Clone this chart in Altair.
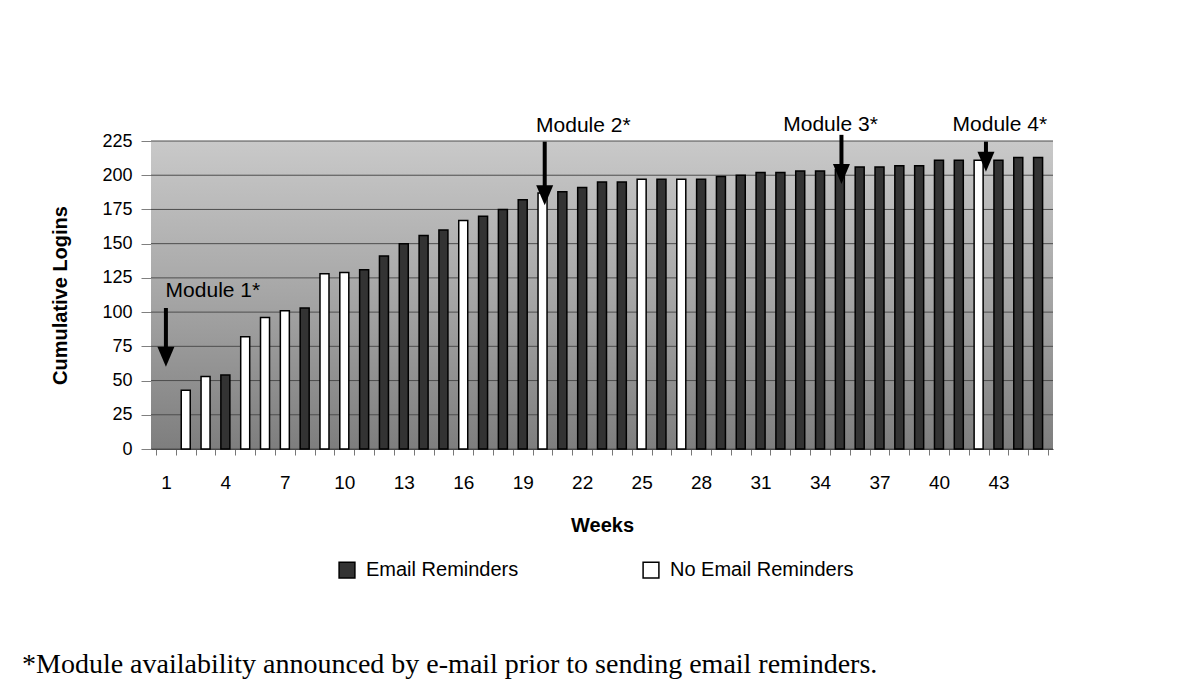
import altair as alt
import pandas as pd

# ---- data ----
weeks = list(range(2, 46))
logins = [43, 53, 54, 82, 96, 101, 103, 128, 129, 131,
          141, 150, 156, 160, 167, 170, 175, 182, 187, 188,
          191, 195, 195, 197, 197, 197, 197, 199, 200, 202,
          202, 203, 203, 204, 206, 206, 207, 207, 211, 211,
          211, 211, 213, 213]
no_email_weeks = [2, 3, 5, 6, 7, 9, 10, 16, 20, 25, 27, 42]
series_names = ["Email Reminders", "No Email Reminders"]
series_colors = ["#333333", "#ffffff"]

x_tick_labels = list(range(1, 46, 3))
x_tick_marks = [w + 0.5 for w in range(0, 46)]
y_ticks = list(range(0, 226, 25))

ann_labels = ["Module 1*", "Module 2*", "Module 3*", "Module 4*"]
ann_label_x = [3.37, 22.06, 34.53, 43.07]
ann_label_y = [111, 231.5, 232.3, 232.3]
arrow_x = [1.0, 20.11, 35.08, 42.37]
arrow_top = [103, 224.5, 229.5, 224.5]
arrow_tip = [60, 178, 193.5, 202.5]

footnote = "*Module availability announced by e-mail prior to sending email reminders."

# ---- tables ----
bars = pd.DataFrame({
    "week": weeks,
    "logins": logins,
    "group": [series_names[1] if w in no_email_weeks else series_names[0] for w in weeks],
})
ann = pd.DataFrame({
    "label": ann_labels, "lx": ann_label_x, "ly": ann_label_y,
    "ax": arrow_x, "atop": arrow_top, "atip": arrow_tip,
})
ann["shaft_end"] = ann["atip"] + 10
grid = pd.DataFrame({"v": y_ticks})
ticks_df = pd.DataFrame({"t": x_tick_marks})

W, H = 902, 308
xscale = alt.Scale(domain=[0.5, 45.5], nice=False, zero=False)
yscale = alt.Scale(domain=[0, 225], nice=False)

y_axis = alt.Axis(values=y_ticks, grid=False, tickSize=10,
                  tickColor="#808080", domainColor="#808080",
                  labelFontSize=18, labelPadding=9, labelColor="black",
                  title="Cumulative Logins", titleFontSize=20,
                  titleFontWeight="bold", titlePadding=31,
                  titleColor="black")

gradient = alt.LinearGradient(
    gradient="linear",
    stops=[alt.GradientStop(color="#c9c9c9", offset=0),
           alt.GradientStop(color="#a6a6a6", offset=0.5),
           alt.GradientStop(color="#7e7e7e", offset=1)],
    x1=0, x2=0, y1=0, y2=1,
)

background = alt.Chart(pd.DataFrame({"a": [0]})).mark_rect(color=gradient).encode(
    x=alt.value(0), x2=alt.value(W), y=alt.value(0), y2=alt.value(H)
)

grid_layer = alt.Chart(grid).mark_rule(color="#4d4d4d", strokeWidth=1).encode(
    y=alt.Y("v:Q", scale=yscale, axis=y_axis)
)

tick_layer = alt.Chart(ticks_df).mark_rule(opacity=0).encode(
    x=alt.X("t:Q", scale=xscale,
            axis=alt.Axis(orient="bottom", values=x_tick_marks, labels=False,
                          ticks=True, tickSize=6, tickColor="#777777",
                          domain=False, grid=False, title=None)),
)

bar_layer = alt.Chart(bars).mark_bar(size=9, stroke="black", strokeWidth=1.5).encode(
    x=alt.X("week:Q", scale=xscale,
            axis=alt.Axis(orient="bottom", values=x_tick_labels, format="d",
                          ticks=False, grid=False, domain=True,
                          domainColor="#444444", labelFontSize=19,
                          labelPadding=24, labelColor="black", labelFlush=False,
                          title="Weeks", titleFontSize=20, titleFontWeight="bold",
                          titlePadding=23, titleColor="black")),
    y=alt.Y("logins:Q", scale=yscale, axis=y_axis),
    color=alt.Color("group:N",
                    scale=alt.Scale(domain=series_names, range=series_colors),
                    legend=alt.Legend(title=None, orient="none", legendX=186,
                                      legendY=419, direction="horizontal",
                                      symbolType="square", symbolSize=250,
                                      symbolStrokeColor="black",
                                      symbolStrokeWidth=1.5, labelFontSize=20,
                                      labelColor="black", labelOffset=9,
                                      labelLimit=400,
                                      columnPadding=121, padding=0)),
)

shaft = alt.Chart(ann).mark_rule(color="black", strokeWidth=4).encode(
    x=alt.X("ax:Q", scale=xscale, axis=None),
    y=alt.Y("atop:Q", scale=yscale, axis=y_axis),
    y2="shaft_end:Q",
)
head = alt.Chart(ann).mark_point(
    shape="M -0.85 -2 L 0.85 -2 L 0 0 Z", size=400, filled=True,
    color="black", opacity=1,
).encode(
    x=alt.X("ax:Q", scale=xscale, axis=None),
    y=alt.Y("atip:Q", scale=yscale, axis=y_axis),
)
labels = alt.Chart(ann).mark_text(
    fontSize=21, color="black", align="center", baseline="alphabetic"
).encode(
    x=alt.X("lx:Q", scale=xscale, axis=None),
    y=alt.Y("ly:Q", scale=yscale, axis=y_axis),
    text="label:N",
)

chart = alt.layer(
    background, grid_layer, tick_layer, bar_layer, shaft, head, labels
).resolve_axis(x="independent").properties(
    width=W, height=H,
    autosize=alt.AutoSizeParams(type="none"),
    padding={"left": 143, "top": 133, "right": 135, "bottom": 230},
    title=alt.TitleParams(text=footnote, orient="bottom", anchor="start",
                          frame="group", font="Liberation Serif", fontSize=28,
                          fontWeight="normal", color="black", dx=-129, dy=66),
).configure(
    font="Liberation Sans",
).configure_view(stroke=None)

chart.save("out.html", embed_options={"renderer": "svg", "actions": False})
